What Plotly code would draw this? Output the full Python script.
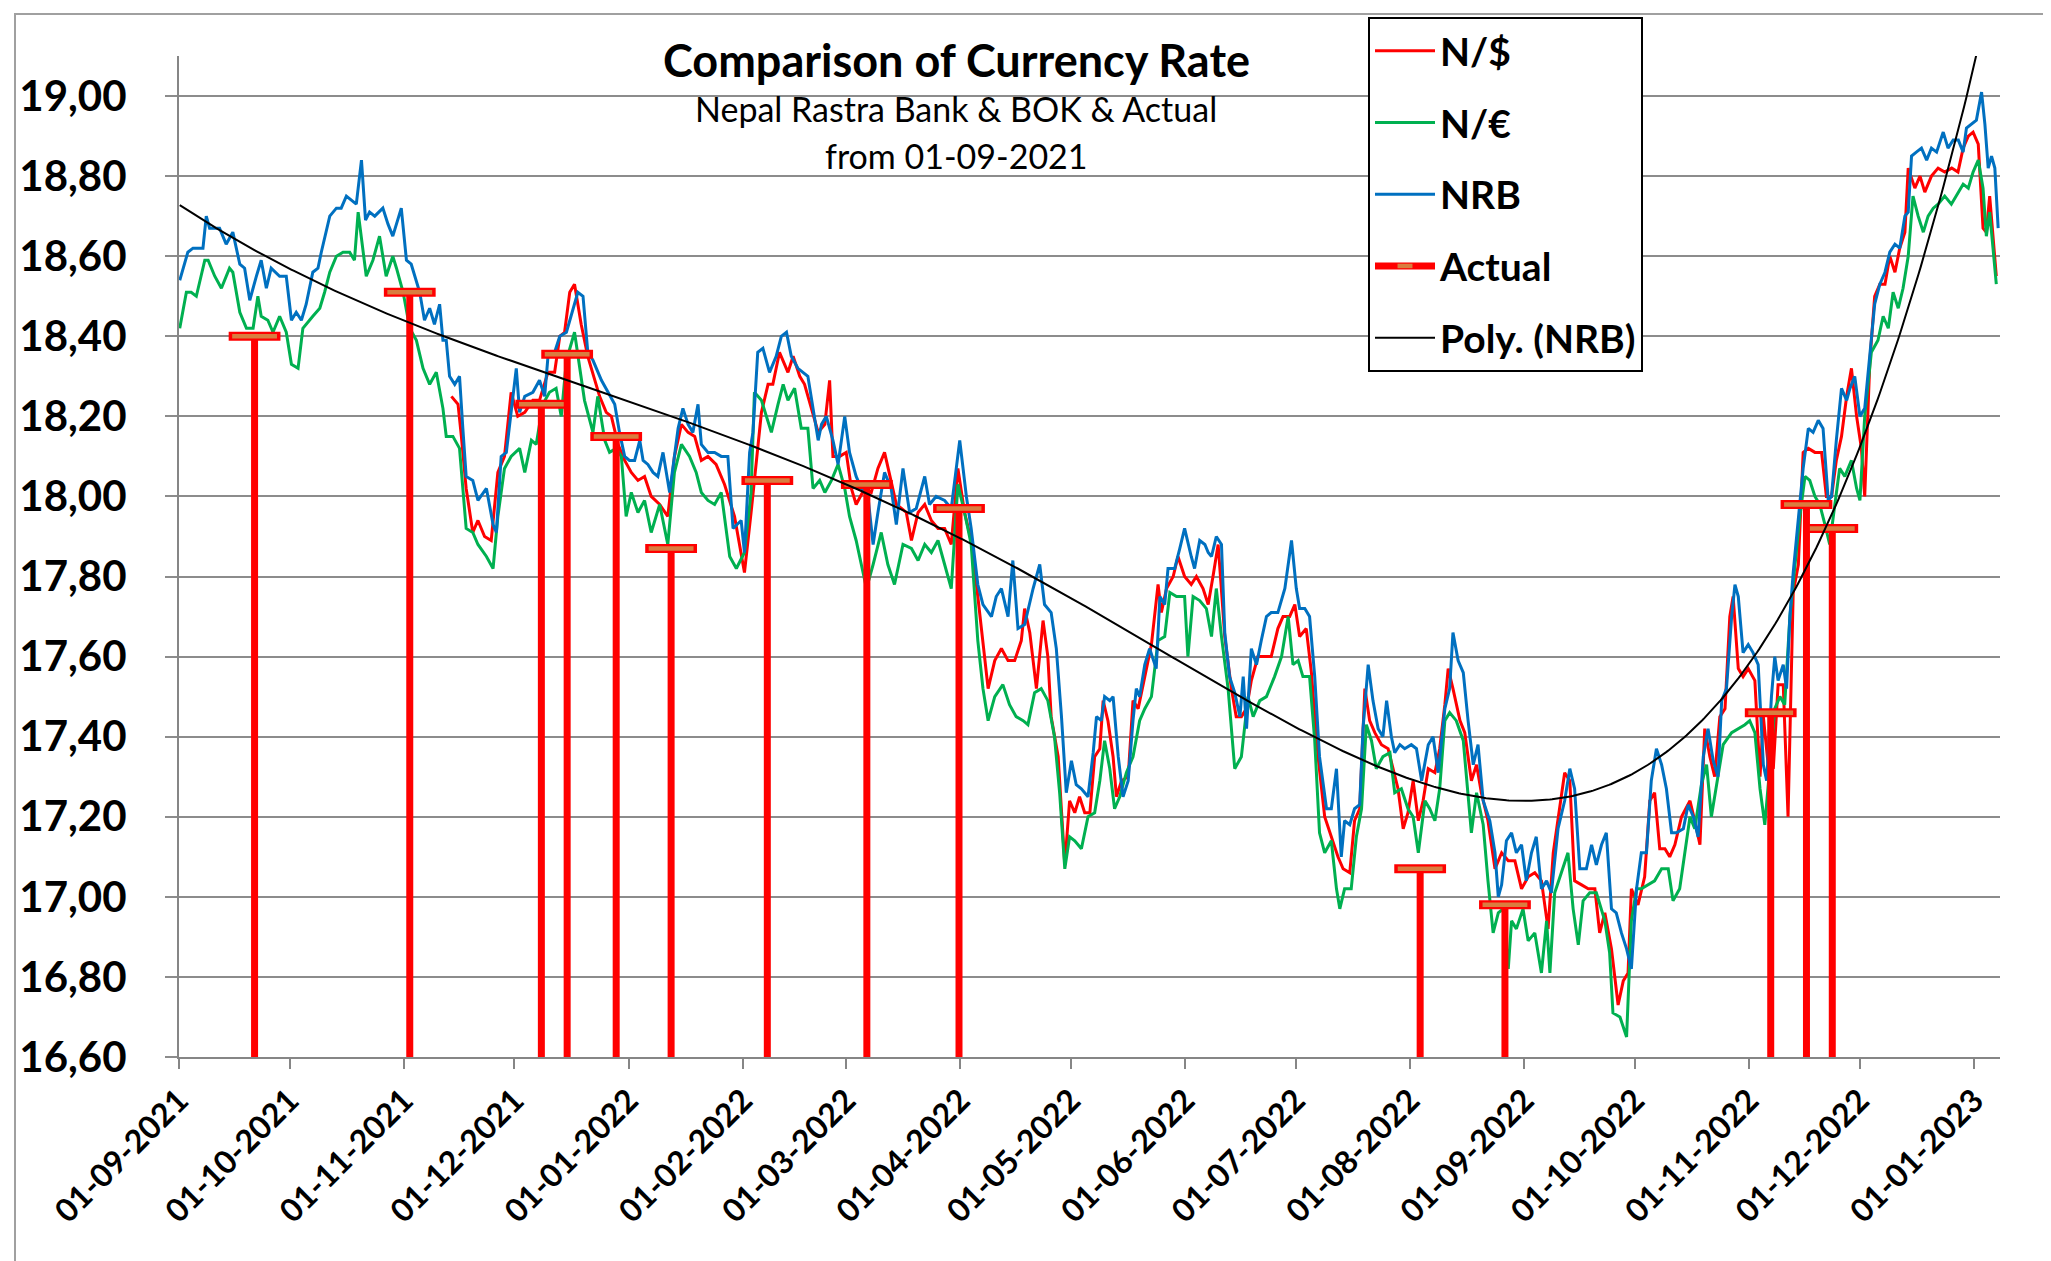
import numpy as np
import pandas as pd
import plotly.graph_objects as go

# ---------------- data ----------------
start_date = "2021-09-01"          # day 0 of the day-offset lists below
end_date = "2023-01-08"            # right end of the date axis
y_min, y_max = 16.6, 19.1

# N/$  (day offset from 01-09-2021, rate)
nusd_points = [
    (73.9,18.25),(74.8,18.24),(75.7,18.23),(76.6,18.15),(77.9,18.02),(79.7,17.91),
    (81.1,17.94),(82.9,17.90),(84.7,17.89),(86.5,18.06),(88.3,18.10),(90.1,18.26),(91.9,18.20),(93.8,18.21),(96.0,18.24),(97.8,18.24),(100.1,18.31),(101.9,18.31),(103.3,18.40),(104.6,18.41),(106.0,18.51),(107.3,18.53),(109.1,18.43),(110.9,18.35),(112.7,18.29),(114.1,18.25),(115.9,18.21),(117.3,18.20),(119.1,18.13),(120.9,18.09),(122.7,18.06),(124.5,18.04),(126.3,18.05),(128.1,18.00),(130.4,17.98),(132.6,17.95),(134.4,18.10),(136.3,18.18),(138.1,18.16),(139.9,18.15),(141.7,18.09),(143.5,18.10),(145.7,18.08),(148.0,18.03),(150.7,17.95),(153.4,17.81),(155.2,17.96),(158.0,18.21),(159.8,18.28),(161.1,18.28),(162.9,18.36),
    (165.2,18.31),(166.6,18.35),(168.4,18.30),(169.7,18.28),(171.5,18.22),(173.4,18.16),(175.2,18.18),(176.5,18.29),(177.4,18.10),(179.2,18.10),(181.0,18.11),(182.4,18.02),(183.7,17.98),(186.0,18.02),(187.8,18.01),(189.6,18.07),(191.4,18.11),(193.2,18.04),(194.6,17.98),(196.0,17.97),(197.3,17.96),(198.7,17.89),(200.5,17.96),(202.3,17.98),(204.1,17.94),(205.9,17.92),(207.7,17.92),(209.5,17.88),(211.3,18.07),(213.1,17.96),(214.9,17.89),(216.7,17.75),(218.1,17.64),(219.5,17.52),(221.3,17.59),(223.1,17.62),(224.9,17.59),(226.7,17.59),(228.5,17.64),(229.4,17.72),(230.8,17.66),(232.6,17.52),(234.4,17.69),(235.7,17.60),(236.6,17.45),(238.5,17.35),(240.3,17.08),(241.6,17.24),(243.0,17.21),(244.3,17.25),(245.7,17.21),
    (247.1,17.21),(248.4,17.35),(249.8,17.37),(250.7,17.49),(252.0,17.44),(253.4,17.35),(254.3,17.25),(255.7,17.29),(257.5,17.30),(258.8,17.49),(260.2,17.47),(262.0,17.55),(263.8,17.63),(265.6,17.78),(266.5,17.71),(267.9,17.77),(269.7,17.80),(271.0,17.85),(272.8,17.80),(274.6,17.78),(276.0,17.80),(277.8,17.77),(279.2,17.73),(280.5,17.80),(281.9,17.88),(283.7,17.65),(285.5,17.52),(286.8,17.45),(288.2,17.45),(289.6,17.47),(290.9,17.54),(292.7,17.60),(294.5,17.60),(296.3,17.60),(298.1,17.67),(299.5,17.70),(301.3,17.70),(302.7,17.73),(304.0,17.65),(305.8,17.67),(307.2,17.56),(309.0,17.35),(310.8,17.20),(312.6,17.15),(314.4,17.10),(315.8,17.07),(317.6,17.06),(318.9,17.19),(320.3,17.22),(321.7,17.52),(323.0,17.44),(324.4,17.41),(326.2,17.38),
    (328.0,17.37),(329.4,17.32),(330.7,17.27),(332.1,17.17),(333.4,17.21),(334.8,17.29),(336.2,17.19),(337.5,17.24),(338.9,17.32),(340.7,17.31),(342.0,17.37),(343.4,17.48),(344.3,17.57),(345.6,17.52),(347.5,17.44),(348.8,17.41),(350.6,17.29),(352.0,17.33),(353.3,17.26),(355.1,17.19),(357.0,17.07),(358.8,17.11),(360.6,17.09),(362.4,17.09),(364.2,17.02),(366.0,17.05),(367.8,17.06),(369.6,17.04),(371.4,16.92),(372.8,17.11),(374.1,17.19),(375.9,17.31),(377.3,17.29),(378.6,17.04),(380.5,17.03),(382.3,17.02),(384.1,17.02),(385.4,16.91),(386.8,16.96),(388.6,16.87),(390.4,16.73),(391.8,16.79),(393.1,16.81),(394.0,17.02),(395.8,16.98),(397.6,17.05),(399.0,17.24),(400.3,17.26),(401.7,17.12),(403.1,17.12),(404.4,17.10),(405.8,17.13),(407.6,17.20),
    (409.9,17.24),(411.2,17.19),(412.6,17.13),(413.9,17.42),(415.3,17.35),(416.6,17.30),(418.0,17.45),(419.4,17.47),(420.7,17.70),(421.6,17.75),(423.0,17.57),(424.3,17.55),(425.7,17.57),(427.5,17.54),(428.9,17.30),(429.8,17.45),(431.1,17.33),(432.5,17.32),(433.8,17.53),(435.2,17.53),(436.5,17.20),(437.9,17.76),(439.3,17.83),(440.6,18.11),(442.0,18.12),(443.8,18.11),(445.6,18.11),(446.9,18.00),(448.3,18.00),(449.6,18.09),(451.0,18.15),(452.4,18.25),(453.7,18.32),(455.1,18.20),(456.4,18.12),(457.3,18.00),(458.7,18.34),(460.0,18.50),(461.4,18.53),(462.8,18.53),(464.1,18.60),(465.5,18.56),(466.8,18.62),(468.2,18.66),(469.1,18.82),(470.9,18.77),(472.3,18.80),(473.6,18.76),(475.4,18.80),(477.2,18.82),(479.0,18.81),(480.9,18.82),(482.6,18.81),(484.0,18.87),(485.4,18.90),(486.7,18.91),(488.1,18.88),(489.4,18.67),(490.3,18.66),(491.2,18.75),(492.1,18.66),(493.0,18.55),
]

# N/€
neur_points = [
    (0.2,18.42),(2.0,18.51),(3.3,18.51),(4.7,18.50),(7.0,18.59),(7.9,18.59),(9.7,18.55),(11.5,18.52),(13.7,18.57),(14.6,18.56),(16.5,18.46),(18.3,18.42),(20.1,18.42),(21.4,18.50),(22.3,18.45),(24.1,18.44),(25.5,18.41),(27.3,18.45),(29.1,18.41),(30.5,18.33),(32.3,18.32),(33.6,18.42),(36.3,18.45),(38.2,18.47),(39.5,18.51),(40.9,18.56),(42.7,18.60),(44.5,18.61),(46.3,18.61),(47.6,18.59),(48.6,18.71),(49.9,18.61),(50.8,18.55),(52.6,18.59),(54.4,18.65),(56.2,18.55),(58.0,18.60),(59.0,18.57),(60.8,18.51),(62.6,18.42),(64.4,18.39),(66.2,18.32),(68.0,18.28),(69.8,18.31),(71.6,18.22),(72.5,18.15),(74.3,18.15),(76.1,18.12),(77.9,17.92),(79.7,17.91),
    (81.1,17.88),(83.4,17.85),(85.2,17.82),(86.5,17.95),(88.3,18.07),(90.1,18.10),(92.4,18.12),(93.8,18.06),(95.6,18.14),(96.9,18.13),(98.7,18.23),(100.5,18.26),(102.3,18.27),(103.7,18.20),(105.1,18.34),(107.3,18.41),(108.7,18.32),(110.0,18.24),(112.3,18.16),(113.6,18.25),(115.5,18.14),(116.8,18.11),(118.6,18.12),(120.0,18.10),(121.3,17.95),(122.7,18.01),(124.5,17.96),(126.3,17.99),(128.1,17.91),(130.4,17.98),(132.6,17.88),(134.4,18.06),(136.3,18.13),(138.5,18.10),(140.3,18.06),(141.7,18.01),(143.5,17.99),(145.3,17.98),(147.1,18.01),(149.4,17.85),(151.2,17.82),(153.4,17.86),(155.2,18.01),(156.1,18.26),(158.0,18.24),(160.7,18.16),(162.5,18.23),
    (163.9,18.28),(165.2,18.24),(167.0,18.27),(168.8,18.17),(170.6,18.17),(172.0,18.02),(173.8,18.04),(175.2,18.01),(177.0,18.04),(178.8,18.08),(180.6,18.02),(181.9,17.95),(183.7,17.89),(185.1,17.83),(186.5,17.77),(188.3,17.83),(190.5,17.91),(192.3,17.83),(194.1,17.78),(196.4,17.88),(198.7,17.87),(200.5,17.84),(202.3,17.88),(204.1,17.86),(205.9,17.89),(207.7,17.83),(209.5,17.77),(211.3,18.03),(213.1,17.96),(214.9,17.88),(216.7,17.64),(218.1,17.52),(219.5,17.44),(221.3,17.50),(223.5,17.53),(225.3,17.48),(227.1,17.45),(229.0,17.44),(230.3,17.43),(232.1,17.51),(233.9,17.52),(235.7,17.49),(237.5,17.40),(238.9,17.26),(240.3,17.07),(241.6,17.15),(243.0,17.14),(244.8,17.12),(246.6,17.20),
    (248.4,17.21),(249.8,17.29),(251.1,17.39),(252.5,17.32),(253.8,17.22),(255.2,17.25),(257.0,17.31),(258.8,17.35),(260.6,17.44),(262.0,17.47),(263.8,17.50),(265.6,17.64),(267.4,17.65),(268.8,17.76),(270.6,17.75),(272.8,17.75),(273.7,17.60),(275.1,17.75),(276.9,17.74),(278.7,17.72),(280.1,17.65),(281.4,17.77),(282.8,17.65),(284.6,17.52),(286.4,17.32),(288.2,17.35),(290.0,17.50),(291.4,17.45),(293.2,17.49),(295.0,17.50),(297.2,17.55),(299.1,17.60),(300.9,17.70),(302.2,17.58),(303.6,17.59),(304.9,17.55),(306.7,17.55),(308.1,17.39),(309.4,17.16),(310.8,17.11),(312.6,17.14),(314.0,17.02),(314.9,16.97),(316.2,17.02),(318.0,17.02),(319.4,17.15),(320.8,17.22),(322.1,17.43),(323.5,17.39),(324.8,17.32),(326.6,17.35),
    (328.5,17.36),(329.8,17.26),(331.6,17.27),(333.4,17.22),(334.8,17.20),(336.2,17.11),(338.0,17.24),(339.3,17.22),(340.7,17.19),(342.0,17.27),(343.4,17.44),(344.7,17.46),(346.5,17.44),(348.4,17.39),(349.7,17.26),(350.6,17.16),(352.0,17.26),(353.8,17.18),(355.1,17.04),(356.5,16.91),(357.9,16.96),(359.2,16.97),(360.6,16.82),(361.5,16.94),(362.8,16.92),(364.6,16.97),(366.0,16.89),(367.8,16.91),(369.6,16.81),(371.0,16.94),(371.9,16.81),(373.2,17.01),(375.0,17.06),(376.8,17.11),(378.2,16.97),(379.6,16.88),(380.9,16.99),(382.7,17.01),(384.5,17.01),(386.8,16.94),(388.1,16.86),(389.0,16.71),(390.9,16.70),(392.7,16.65),(394.0,16.94),(395.4,17.02),(396.7,17.02),(398.5,17.03),(400.3,17.04),(402.2,17.07),(404.0,17.07),(405.3,16.99),(407.1,17.02),
    (409.9,17.20),(411.2,17.17),(413.0,17.28),(414.4,17.33),(415.7,17.20),(417.1,17.28),(418.9,17.38),(421.2,17.41),(423.0,17.42),(424.8,17.43),(426.1,17.44),(427.5,17.41),(428.9,17.27),(430.2,17.18),(431.6,17.33),(432.9,17.47),(434.3,17.50),(435.6,17.48),(437.0,17.70),(438.3,17.83),(439.7,17.95),(441.1,18.05),(442.4,18.04),(443.8,18.00),(445.1,17.98),(446.5,17.93),(447.8,17.88),(449.2,17.98),(450.5,18.07),(451.9,18.05),(453.7,18.09),(455.1,18.02),(456.0,17.99),(457.3,18.20),(459.1,18.36),(460.9,18.39),(462.3,18.45),(463.7,18.42),(465.0,18.51),(466.4,18.47),(467.7,18.52),(469.1,18.60),(470.4,18.75),(471.8,18.70),(473.2,18.66),(474.5,18.70),(475.9,18.72),(477.2,18.73),(479.0,18.75),(480.8,18.73),(482.6,18.76),(484.0,18.78),(485.4,18.77),(486.7,18.81),(488.1,18.84),(489.4,18.77),(490.3,18.65),(491.2,18.71),(492.1,18.62),(493.0,18.53),
]

# NRB
nrb_points = [
    (0.2,18.54),(2.4,18.61),(3.8,18.62),(6.5,18.62),(7.4,18.70),(8.3,18.67),(11.0,18.67),(12.8,18.63),(14.6,18.66),(16.5,18.58),(17.8,18.57),(19.2,18.49),(21.0,18.55),(22.3,18.59),(23.7,18.52),(25.0,18.57),(27.3,18.55),(29.1,18.55),(30.5,18.44),(31.8,18.46),(33.2,18.44),(34.5,18.48),(36.3,18.56),(37.7,18.57),(38.6,18.61),(40.9,18.70),(42.7,18.72),(44.0,18.72),(45.4,18.75),(46.7,18.74),(48.1,18.73),(49.5,18.84),(50.6,18.69),(51.7,18.71),(53.1,18.70),(55.3,18.72),(56.7,18.68),(58.0,18.65),(59.4,18.69),(60.3,18.72),(61.7,18.59),(63.0,18.58),(65.3,18.51),(66.6,18.44),(68.0,18.47),(69.3,18.43),(70.7,18.48),(71.6,18.39),(72.5,18.39),(73.4,18.30),(74.8,18.28),(76.1,18.30),(77.0,18.17),(77.9,18.05),(79.7,18.04),
    (81.1,17.99),(83.4,18.02),(85.2,17.93),(86.1,17.91),(87.4,18.10),(88.8,18.11),(90.1,18.21),(91.5,18.32),(92.4,18.21),(93.8,18.25),(96.0,18.26),(97.8,18.29),(99.2,18.25),(100.1,18.35),(101.9,18.36),(103.3,18.40),(105.1,18.41),(106.9,18.47),(108.2,18.51),(109.6,18.50),(110.9,18.36),(112.3,18.34),(114.6,18.29),(116.4,18.26),(118.2,18.23),(119.5,18.16),(120.9,18.10),(122.2,18.09),(123.6,18.09),(125.0,18.14),(125.9,18.09),(127.2,18.08),(128.6,18.06),(129.9,18.05),(131.3,18.11),(133.1,18.01),(134.4,18.10),(135.4,18.17),(136.7,18.22),(138.1,18.18),(139.4,18.16),(140.8,18.23),(141.7,18.13),(143.5,18.11),(145.3,18.11),(147.1,18.10),(148.9,18.10),(150.3,17.92),(152.5,17.94),(153.4,17.86),(154.8,18.11),(155.7,18.16),(157.0,18.36),(158.4,18.37),(160.2,18.31),(162.0,18.35),(163.4,18.40),
    (164.8,18.41),(166.1,18.35),(167.9,18.32),(170.6,18.30),(172.0,18.22),(173.4,18.14),(174.3,18.18),(175.6,18.20),(177.4,18.14),(178.8,18.08),(180.6,18.20),(181.9,18.11),(183.7,18.05),(185.1,18.02),(186.9,18.00),(188.3,17.88),(189.6,17.96),(191.4,18.06),(193.2,18.02),(194.6,17.93),(196.4,18.07),(198.2,17.96),(200.0,17.97),(202.3,18.05),(203.6,17.98),(205.4,18.00),(207.7,17.99),(209.5,17.97),(211.8,18.14),(213.6,18.00),(214.9,17.92),(216.7,17.78),(218.1,17.73),(220.4,17.70),(221.7,17.75),(223.1,17.77),(224.9,17.70),(226.2,17.84),(227.6,17.67),(229.4,17.68),(231.7,17.77),(233.5,17.83),(234.8,17.73),(236.6,17.71),(238.0,17.62),(239.4,17.45),(240.7,17.26),(242.1,17.34),(243.4,17.28),(244.8,17.27),(246.6,17.25),
    (248.0,17.36),(248.9,17.45),(250.2,17.44),(251.1,17.50),(252.5,17.49),(253.4,17.50),(254.8,17.35),(256.1,17.25),(257.5,17.29),(258.8,17.44),(259.7,17.52),(260.6,17.50),(262.0,17.58),(263.3,17.62),(265.1,17.57),(266.1,17.75),(267.4,17.73),(268.3,17.82),(270.1,17.82),(271.5,17.87),(272.8,17.92),(274.6,17.85),(275.5,17.82),(276.9,17.89),(278.3,17.88),(279.2,17.86),(280.1,17.85),(281.4,17.90),(282.8,17.88),(283.7,17.66),(285.0,17.55),(286.4,17.51),(287.8,17.45),(288.7,17.55),(289.6,17.42),(290.9,17.62),(292.3,17.58),(293.6,17.64),(295.0,17.70),(296.3,17.71),(298.1,17.71),(300.0,17.77),(301.8,17.89),(303.1,17.77),(304.0,17.72),(305.4,17.72),(306.7,17.70),(308.1,17.55),(309.4,17.35),(311.3,17.22),(312.6,17.22),(314.0,17.32),(315.3,17.10),(316.2,17.19),(317.6,17.18),(318.9,17.22),(320.3,17.23),(321.2,17.42),(322.6,17.58),(323.9,17.49),(325.3,17.42),(326.6,17.40),
    (327.6,17.49),(328.9,17.40),(329.8,17.36),(331.2,17.38),(332.5,17.37),(334.3,17.38),(335.7,17.37),(337.1,17.29),(338.9,17.38),(340.2,17.40),(341.6,17.31),(343.4,17.47),(344.7,17.52),(345.6,17.66),(347.0,17.59),(348.4,17.56),(349.7,17.44),(351.1,17.33),(352.4,17.38),(353.8,17.24),(355.6,17.19),(357.0,17.11),(357.9,17.00),(358.8,17.03),(360.1,17.14),(361.5,17.16),(362.8,17.11),(364.2,17.13),(365.5,17.04),(366.9,17.11),(368.2,17.15),(369.6,17.02),(371.0,17.04),(372.3,17.01),(374.1,17.17),(375.9,17.24),(377.3,17.32),(378.6,17.27),(380.0,17.07),(381.8,17.07),(383.2,17.13),(384.5,17.08),(385.9,17.13),(387.2,17.16),(388.6,16.97),(389.9,16.96),(391.3,16.91),(392.7,16.87),(394.0,16.82),(395.4,17.02),(396.7,17.11),(398.1,17.11),(399.4,17.29),(400.8,17.37),(402.2,17.33),(403.5,17.27),(404.9,17.16),(406.2,17.16),
    (408.1,17.17),(409.4,17.23),(410.8,17.20),(412.1,17.15),(413.5,17.35),(414.8,17.42),(416.2,17.34),(417.5,17.30),(418.5,17.49),(419.8,17.52),(421.2,17.70),(422.1,17.78),(423.0,17.75),(424.3,17.61),(425.7,17.63),(427.0,17.61),(428.4,17.58),(429.8,17.33),(430.7,17.29),(432.0,17.50),(432.9,17.60),(433.8,17.54),(435.2,17.58),(436.1,17.52),(437.0,17.70),(437.9,17.81),(439.3,17.95),(440.6,18.07),(442.0,18.17),(443.3,18.16),(444.7,18.19),(446.0,18.17),(447.4,17.99),(448.3,18.00),(449.6,18.14),(451.0,18.27),(452.4,18.24),(453.3,18.27),(454.6,18.30),(456.0,18.20),(457.3,18.22),(458.7,18.36),(460.0,18.48),(461.4,18.53),(462.8,18.56),(464.1,18.61),(465.5,18.63),(466.8,18.62),(468.2,18.70),(469.1,18.71),(470.0,18.85),(471.3,18.86),(472.7,18.87),(474.1,18.84),(475.4,18.87),(476.8,18.86),(478.6,18.91),(479.9,18.87),(481.3,18.89),(482.7,18.89),(484.0,18.86),(484.9,18.92),(486.3,18.93),(487.6,18.94),(489.0,19.01),(489.9,18.93),(490.8,18.82),(491.7,18.85),(492.6,18.82),(493.5,18.67),
]

# Actual (day offset, rate)
actual_day = [20.5, 62.6, 98.3, 105.3, 118.6, 133.5, 159.6, 186.6, 211.6, 336.7, 359.7, 431.8, 441.5, 448.5]
actual_val = [18.40, 18.51, 18.23, 18.355, 18.15, 17.87, 18.04, 18.03, 17.97, 17.07, 16.98, 17.46, 17.98, 17.92]

series_names = ["N/$", "N/€", "NRB", "Actual", "Poly. (NRB)"]
title_lines = ["Comparison of Currency Rate", "Nepal Rastra Bank & BOK & Actual", "from 01-09-2021"]
trend_order = 5

# ---------------- helpers ----------------
t0 = pd.Timestamp(start_date)


def to_dates(days):
    return list(t0 + pd.to_timedelta(list(days), unit="D"))


def split(points):
    return [p[0] for p in points], [p[1] for p in points]


nusd_day, nusd_val = split(nusd_points)
neur_day, neur_val = split(neur_points)
nrb_day, nrb_val = split(nrb_points)

# figure geometry (pixels)
W, H = 2051, 1261
ML, MR, MT, MB = 171, 59, 48, 212
PW, PH = W - ML - MR, H - MT - MB


def px_x(px):
    return (px - ML) / PW


def px_y(py):
    return (H - MB - py) / PH


RED, GREEN, BLUE = "#FF0000", "#00B050", "#0070C0"
TAN = "#C9B35A"
GRID = "#8C8C8C"
FONT = "Lato"

fig = go.Figure()

fig.add_trace(go.Scatter(x=to_dates(nusd_day), y=nusd_val, mode="lines", name=series_names[0],
                         line=dict(color=RED, width=3), legendgroup="g1"))
fig.add_trace(go.Scatter(x=to_dates(neur_day), y=neur_val, mode="lines", name=series_names[1],
                         line=dict(color=GREEN, width=3), legendgroup="g2"))
fig.add_trace(go.Scatter(x=to_dates(nrb_day), y=nrb_val, mode="lines", name=series_names[2],
                         line=dict(color=BLUE, width=3), legendgroup="g3"))

# Actual: red frame of the dash markers
actual_dates = to_dates(actual_day)
fig.add_trace(go.Scatter(x=actual_dates, y=actual_val, mode="markers", showlegend=False,
                         legendgroup="g4",
                         marker=dict(symbol="line-ew", size=37, color=RED,
                                     line=dict(color=RED, width=9))))
# Actual: stems from the axis floor + tan dash marker
stem_x, stem_y, stem_s = [], [], []
for d, v in zip(actual_dates, actual_val):
    stem_x += [d, d, None]
    stem_y += [y_min, v, None]
    stem_s += [0, 32, 0]
fig.add_trace(go.Scatter(x=stem_x, y=stem_y, mode="lines+markers", name=series_names[3],
                         legendgroup="g4", connectgaps=False,
                         line=dict(color=RED, width=7),
                         marker=dict(symbol="line-ew", size=stem_s, color=TAN,
                                     line=dict(color=TAN, width=4.5))))

# Polynomial trend line of NRB
poly = np.polynomial.Polynomial.fit(nrb_day, nrb_val, trend_order)
trend_day = np.linspace(min(nrb_day), max(nrb_day), 800)
fig.add_trace(go.Scatter(x=to_dates(trend_day), y=poly(trend_day), mode="lines",
                         name=series_names[4], legendgroup="g5",
                         line=dict(color="black", width=2)))

shapes = [
    # chart border
    dict(type="rect", xref="paper", yref="paper", x0=px_x(7), x1=px_x(2041), y0=px_y(1258), y1=px_y(6),
         line=dict(color="#A0A0A0", width=2), fillcolor="rgba(0,0,0,0)", layer="below"),
    # white box behind the title
    dict(type="rect", xref="paper", yref="paper", x0=px_x(641), x1=px_x(1256), y0=px_y(205), y1=px_y(15),
         line=dict(width=0), fillcolor="white", layer="between"),
]

annotations = [
    dict(text=title_lines[0], xref="paper", yref="paper", x=px_x(948), y=px_y(52), showarrow=False,
         xanchor="center", yanchor="middle", font=dict(family=FONT, size=45, color="black", weight="bold")),
    dict(text=title_lines[1], xref="paper", yref="paper", x=px_x(948), y=px_y(101), showarrow=False,
         xanchor="center", yanchor="middle", font=dict(family=FONT, size=34, color="black")),
    dict(text=title_lines[2], xref="paper", yref="paper", x=px_x(948), y=px_y(148), showarrow=False,
         xanchor="center", yanchor="middle", font=dict(family=FONT, size=34, color="black")),
]

fig.update_layout(
    width=W, height=H,
    margin=dict(l=ML, r=MR, t=MT, b=MB, autoexpand=False),
    paper_bgcolor="white", plot_bgcolor="white",
    separators=",.",
    shapes=shapes, annotations=annotations,
    showlegend=True,
    legend=dict(x=px_x(1360), y=px_y(9), xanchor="left", yanchor="top",
                bgcolor="white", bordercolor="black", borderwidth=2,
                font=dict(family=FONT, size=39, color="black", weight="bold"),
                traceorder="grouped", tracegroupgap=18, itemwidth=60),
)

fig.update_xaxes(type="date", range=[start_date, end_date], tick0=start_date, dtick="M1",
                 tickformat="%d-%m-%Y", tickangle=-45,
                 tickfont=dict(family=FONT, size=32, color="black", weight="bold"),
                 showline=True, linecolor="#868686", linewidth=2,
                 ticks="outside", ticklen=10, tickwidth=2, tickcolor="#868686",
                 showgrid=False, zeroline=False)
fig.update_yaxes(range=[y_min, y_max], tick0=16.6, dtick=0.2, tickformat=".2f",
                 showgrid=True, gridcolor=GRID, gridwidth=2,
                 showline=True, linecolor="#868686", linewidth=2,
                 ticks="outside", ticklen=12, tickwidth=2, tickcolor=GRID,
                 tickfont=dict(family=FONT, size=42, color="black", weight="bold"),
                 ticklabelstandoff=30, zeroline=False)

fig.write_html("out.html")
